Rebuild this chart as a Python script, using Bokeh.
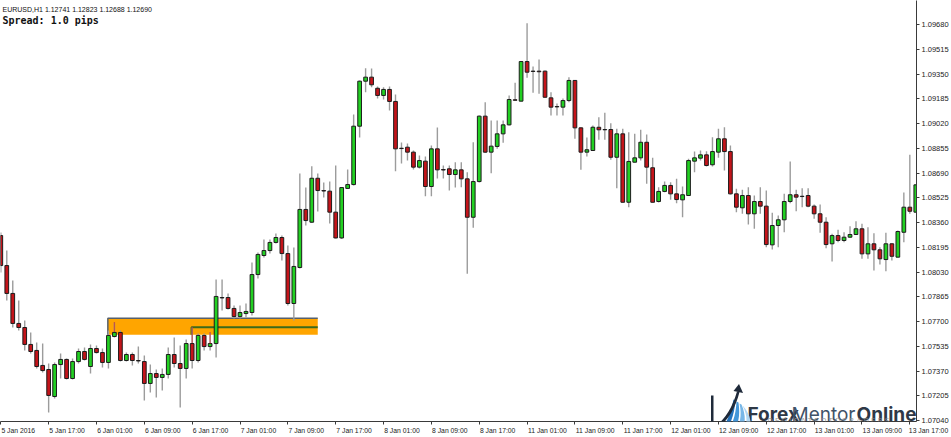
from bokeh.plotting import figure
from bokeh.models import Range1d, FixedTicker, PrintfTickFormatter, Label, PolyAnnotation
from bokeh.embed import file_html
from bokeh.resources import INLINE

# ---------------- data (EURUSD H1) ----------------
opens = [1.08273, 1.08073, 1.07887, 1.07687, 1.07660, 1.07547, 1.07507, 1.07407, 1.07380, 1.07200,
         1.07413, 1.07447, 1.07320, 1.07433, 1.07500, 1.07400, 1.07520, 1.07493, 1.07427, 1.07600,
         1.07627, 1.07440, 1.07480, 1.07440, 1.07433, 1.07287, 1.07353, 1.07327, 1.07347, 1.07480,
         1.07420, 1.07387, 1.07553, 1.07440, 1.07607, 1.07533, 1.07553, 1.07860, 1.07860, 1.07787,
         1.07733, 1.07753, 1.07760, 1.08013, 1.08140, 1.08173, 1.08227, 1.08260, 1.08153, 1.07820,
         1.08060, 1.08447, 1.08362, 1.08655, 1.08573, 1.08569, 1.08429, 1.08257, 1.08587, 1.08613,
         1.09002, 1.09302, 1.09329, 1.09255, 1.09207, 1.09247, 1.09167, 1.08855, 1.08862, 1.08829,
         1.08729, 1.08769, 1.08600, 1.08851, 1.08713, 1.08718, 1.08680, 1.08711, 1.08651, 1.08395,
         1.08633, 1.09069, 1.08829, 1.08867, 1.08951, 1.09011, 1.09178, 1.09169, 1.09433, 1.09369,
         1.09369, 1.09369, 1.09191, 1.09133, 1.09129, 1.09173, 1.09307, 1.08991, 1.08829, 1.08840,
         1.08995, 1.08980, 1.08980, 1.08795, 1.08951, 1.08495, 1.08762, 1.08791, 1.08895, 1.08725,
         1.08500, 1.08567, 1.08607, 1.08551, 1.08511, 1.08540, 1.08769, 1.08789, 1.08811, 1.08745,
         1.08829, 1.08918, 1.08833, 1.08551, 1.08458, 1.08540, 1.08418, 1.08500, 1.08469, 1.08211,
         1.08340, 1.08378, 1.08500, 1.08545, 1.08535, 1.08540, 1.08469, 1.08418, 1.08362, 1.08218,
         1.08273, 1.08240, 1.08262, 1.08280, 1.08318, 1.08151, 1.08218, 1.08178, 1.08113, 1.08218,
         1.08129, 1.08295, 1.08462, 1.08429]
highs = [1.08293, 1.08173, 1.07973, 1.07840, 1.07707, 1.07627, 1.07560, 1.07553, 1.07420, 1.07427,
         1.07487, 1.07453, 1.07453, 1.07520, 1.07527, 1.07547, 1.07540, 1.07520, 1.07640, 1.07693,
         1.07640, 1.07493, 1.07493, 1.07533, 1.07473, 1.07413, 1.07380, 1.07387, 1.07527, 1.07593,
         1.07540, 1.07580, 1.07660, 1.07620, 1.07620, 1.07627, 1.07980, 1.07980, 1.07887, 1.07807,
         1.07807, 1.07820, 1.08093, 1.08160, 1.08247, 1.08247, 1.08287, 1.08273, 1.08207, 1.08193,
         1.08687, 1.08593, 1.08735, 1.08687, 1.08627, 1.08633, 1.08740, 1.08593, 1.08713, 1.09080,
         1.09307, 1.09389, 1.09387, 1.09267, 1.09262, 1.09267, 1.09213, 1.08893, 1.08887, 1.08840,
         1.08807, 1.08800, 1.08873, 1.08993, 1.08740, 1.08740, 1.08762, 1.08762, 1.08695, 1.08895,
         1.09073, 1.09162, 1.09040, 1.09040, 1.09040, 1.09207, 1.09291, 1.09433, 1.09689, 1.09400,
         1.09447, 1.09373, 1.09229, 1.09153, 1.09187, 1.09329, 1.09310, 1.08995, 1.08927, 1.09007,
         1.09062, 1.09091, 1.09022, 1.08985, 1.08985, 1.08962, 1.08951, 1.08978, 1.08947, 1.08791,
         1.08595, 1.08633, 1.08629, 1.08651, 1.08600, 1.08785, 1.08833, 1.08840, 1.08835, 1.08929,
         1.08985, 1.08995, 1.08873, 1.08585, 1.08578, 1.08595, 1.08540, 1.08595, 1.08573, 1.08425,
         1.08407, 1.08551, 1.08767, 1.08578, 1.08589, 1.08589, 1.08480, 1.08480, 1.08395, 1.08285,
         1.08311, 1.08295, 1.08335, 1.08369, 1.08351, 1.08329, 1.08289, 1.08195, 1.08291, 1.08222,
         1.08307, 1.08560, 1.08811, 1.08613]
lows = [1.08027, 1.07840, 1.07660, 1.07640, 1.07507, 1.07487, 1.07387, 1.07360, 1.07093, 1.07187,
        1.07320, 1.07313, 1.07313, 1.07420, 1.07440, 1.07353, 1.07487, 1.07393, 1.07387, 1.07593,
        1.07433, 1.07433, 1.07407, 1.07420, 1.07173, 1.07227, 1.07193, 1.07240, 1.07320, 1.07393,
        1.07127, 1.07320, 1.07387, 1.07427, 1.07507, 1.07507, 1.07460, 1.07773, 1.07780, 1.07720,
        1.07720, 1.07727, 1.07740, 1.07987, 1.08127, 1.08153, 1.08220, 1.08107, 1.07807, 1.07707,
        1.08053, 1.08340, 1.08357, 1.08433, 1.08527, 1.08353, 1.08253, 1.08250, 1.08583, 1.08607,
        1.08927, 1.09229, 1.09262, 1.09187, 1.09180, 1.09107, 1.08702, 1.08753, 1.08773, 1.08713,
        1.08720, 1.08535, 1.08535, 1.08653, 1.08653, 1.08573, 1.08593, 1.08595, 1.08018, 1.08325,
        1.08627, 1.08823, 1.08689, 1.08851, 1.08891, 1.09007, 1.09173, 1.09167, 1.09325, 1.09225,
        1.09218, 1.09193, 1.09073, 1.09073, 1.09073, 1.09162, 1.08918, 1.08711, 1.08800, 1.08837,
        1.08911, 1.08911, 1.08778, 1.08589, 1.08493, 1.08462, 1.08760, 1.08773, 1.08618, 1.08493,
        1.08493, 1.08562, 1.08511, 1.08489, 1.08395, 1.08537, 1.08695, 1.08773, 1.08733, 1.08733,
        1.08791, 1.08707, 1.08547, 1.08429, 1.08418, 1.08347, 1.08318, 1.08418, 1.08195, 1.08180,
        1.08195, 1.08295, 1.08489, 1.08435, 1.08462, 1.08462, 1.08385, 1.08291, 1.08189, 1.08100,
        1.08229, 1.08229, 1.08258, 1.08278, 1.08118, 1.08118, 1.08040, 1.08080, 1.08035, 1.08107,
        1.08127, 1.08229, 1.08418, 1.08427]
closes = [1.08073, 1.07887, 1.07687, 1.07660, 1.07547, 1.07500, 1.07400, 1.07373, 1.07207, 1.07413,
          1.07447, 1.07320, 1.07433, 1.07500, 1.07447, 1.07520, 1.07493, 1.07427, 1.07607, 1.07627,
          1.07440, 1.07480, 1.07440, 1.07437, 1.07287, 1.07353, 1.07327, 1.07347, 1.07480, 1.07420,
          1.07387, 1.07553, 1.07440, 1.07607, 1.07533, 1.07553, 1.07867, 1.07857, 1.07787, 1.07733,
          1.07760, 1.07767, 1.08013, 1.08147, 1.08173, 1.08227, 1.08260, 1.08153, 1.07820, 1.08067,
          1.08447, 1.08373, 1.08655, 1.08573, 1.08570, 1.08429, 1.08257, 1.08593, 1.08613, 1.09002,
          1.09302, 1.09329, 1.09278, 1.09207, 1.09247, 1.09167, 1.08851, 1.08853, 1.08829, 1.08729,
          1.08773, 1.08600, 1.08851, 1.08711, 1.08710, 1.08680, 1.08711, 1.08651, 1.08395, 1.08633,
          1.09069, 1.08829, 1.08869, 1.08951, 1.09011, 1.09180, 1.09175, 1.09433, 1.09362, 1.09367,
          1.09365, 1.09195, 1.09129, 1.09131, 1.09173, 1.09307, 1.08991, 1.08829, 1.08845, 1.08995,
          1.08978, 1.08978, 1.08795, 1.08951, 1.08495, 1.08767, 1.08791, 1.08895, 1.08729, 1.08495,
          1.08567, 1.08607, 1.08551, 1.08513, 1.08545, 1.08773, 1.08791, 1.08811, 1.08740, 1.08833,
          1.08918, 1.08833, 1.08551, 1.08462, 1.08540, 1.08418, 1.08500, 1.08469, 1.08213, 1.08340,
          1.08378, 1.08500, 1.08545, 1.08529, 1.08533, 1.08469, 1.08418, 1.08362, 1.08213, 1.08273,
          1.08240, 1.08262, 1.08280, 1.08318, 1.08151, 1.08218, 1.08178, 1.08118, 1.08218, 1.08135,
          1.08300, 1.08462, 1.08435, 1.08611]

time_labels = ["5 Jan 2016", "5 Jan 17:00", "6 Jan 01:00", "6 Jan 09:00", "6 Jan 17:00",
               "7 Jan 01:00", "7 Jan 09:00", "7 Jan 17:00", "8 Jan 01:00", "8 Jan 09:00",
               "8 Jan 17:00", "11 Jan 01:00", "11 Jan 09:00", "11 Jan 17:00", "12 Jan 01:00",
               "12 Jan 09:00", "12 Jan 17:00", "13 Jan 01:00", "13 Jan 09:00", "13 Jan 17:00"]
bars_per_label = 8
price_ticks = [1.07040, 1.07205, 1.07370, 1.07535, 1.07700, 1.07865, 1.08030, 1.08195, 1.08360,
               1.08525, 1.08690, 1.08855, 1.09020, 1.09185, 1.09350, 1.09515, 1.09680]

# supply/demand zone drawn on the chart
zone_start, zone_end = 17.9, 53.0
zone_top, zone_bottom = 1.07722, 1.07611
level_start, level_price = 31.9, 1.07662
marked_bars = [19, 32, 35]

header_text = "EURUSD,H1  1.12741 1.12823 1.12688 1.12690"
spread_text = "Spread: 1.0 pips"

# ---------------- geometry helpers ----------------
PX_PER_BAR = 6.0
PX_PER_PRICE = 15000.0
FRAME_W, FRAME_H = 919, 421
TOP_PRICE = 1.0984


def kx(px):
    return (px - 0.3) / PX_PER_BAR


def py(px):
    return TOP_PRICE - px / PX_PER_PRICE


def sx(px):          # page x -> screen units (frame left origin)
    return px


def sy(px):          # page y -> screen units (frame bottom origin, upwards)
    return FRAME_H - px


GREEN = "#22d022"
RED = "#c4141a"
OUTLINE = "#1c1c1c"
WICK = "#9c9c9c"
AXIS = "#3a3a3a"

n = len(opens)
idx = list(range(n))
body_top = [max(o, c) for o, c in zip(opens, closes)]
body_bot = [min(o, c) for o, c in zip(opens, closes)]
colors = [GREEN if c > o else RED for o, c in zip(opens, closes)]

p = figure(width=951, height=437, output_backend="svg", toolbar_location=None,
           x_range=Range1d(kx(0), kx(FRAME_W)), y_range=Range1d(py(FRAME_H), py(0)),
           y_axis_location="right", min_border_left=0, min_border_top=0,
           min_border_right=32, min_border_bottom=16)
p.outline_line_color = None
p.background_fill_color = "white"
p.border_fill_color = "white"
p.xgrid.visible = False
p.ygrid.visible = False

# zone (background object)
p.quad(left=[zone_start], right=[zone_end], top=[zone_top], bottom=[zone_bottom],
       fill_color="#ffa500", line_color=None)
p.line([zone_start, zone_start, zone_end], [zone_bottom, zone_top, zone_top],
       line_color="#56606c", line_width=1.5)
p.line([level_start, level_start, zone_end], [zone_bottom, level_price, level_price],
       line_color="#3b6a1c", line_width=2)

# candles
p.segment(x0=idx, y0=highs, x1=idx, y1=lows, line_color=WICK, line_width=1.4)
p.vbar(x=idx, width=0.62, top=body_top, bottom=body_bot, fill_color=colors,
       line_color=OUTLINE, line_width=1)
p.segment(x0=marked_bars, y0=[highs[k] for k in marked_bars],
          x1=marked_bars, y1=[body_top[k] for k in marked_bars],
          line_color="#d01010", line_width=1.3, line_dash="1 1")

# right price axis
ya = p.yaxis[0]
ya.ticker = FixedTicker(ticks=price_ticks)
ya.formatter = PrintfTickFormatter(format="%.5f")
ya.major_label_text_font = "Liberation Sans"
ya.major_label_text_font_size = "7.5px"
ya.major_label_text_color = "#222222"
ya.major_tick_out = 3
ya.major_tick_in = 0
ya.minor_tick_line_color = None
ya.axis_line_color = AXIS
ya.major_tick_line_color = AXIS
ya.major_label_standoff = 2

# bottom time axis: tick marks at bar positions, labels start at the tick
CHAR_EM = {" ": 0.278, ":": 0.278, "J": 0.5, "a": 0.556, "n": 0.556}
LABEL_PX = 6.8
NBSP = "\u00a0"
NBSP_PX = 0.278 * LABEL_PX


def text_px(s):
    return sum(CHAR_EM.get(ch, 0.556) for ch in s) * LABEL_PX


tick_pos = [bars_per_label * i for i in range(len(time_labels))]
x_end = kx(FRAME_W)
major_pos, overrides = [], {}
for t, lab in zip(tick_pos, time_labels):
    w = text_px(lab)
    start_px = t * PX_PER_BAR + 0.3 + 0.7
    center_px = start_px + w / 2
    if kx(center_px) < x_end - 0.05:
        c = round(kx(center_px), 3)
        major_pos.append(c)
        overrides[c] = lab
    else:
        # last label would be centred outside the frame: centre it just inside and
        # pad on the left so the visible text still starts at its tick
        start_px = t * PX_PER_BAR - 1.0
        c_px = FRAME_W - 1.2
        n_pad = max(0, int(round((2 * (start_px - c_px) + w) / NBSP_PX)))
        c = round(kx(c_px), 3)
        major_pos.append(c)
        overrides[c] = NBSP * n_pad + lab

xa = p.xaxis[0]
xa.ticker = FixedTicker(ticks=major_pos, minor_ticks=tick_pos)
xa.major_label_overrides = overrides
xa.major_tick_line_color = None
xa.major_tick_out = 3
xa.major_tick_in = 0
xa.minor_tick_out = 3
xa.minor_tick_in = 0
xa.minor_tick_line_color = AXIS
xa.axis_line_color = AXIS
xa.major_label_standoff = 2
xa.major_label_text_font = "Liberation Sans"
xa.major_label_text_font_size = "%gpx" % LABEL_PX
xa.major_label_text_color = "#222222"

# header texts
p.add_layout(Label(x=kx(2), y=py(8.5), text=header_text, text_font="Liberation Sans",
                   text_font_size="7px", text_color="#111111", text_baseline="alphabetic"))
p.add_layout(Label(x=kx(2), y=py(19.5), text=spread_text, text_font="DejaVu Sans Mono",
                   text_font_size="10px", text_font_style="bold", text_color="#111111",
                   text_baseline="alphabetic"))

# ---------------- watermark logo (screen units, kept inside the frame) ----------------
NAVY = "#1f2a3a"


def quad_pts(p0, c, p1, steps=8):
    pts = []
    for i in range(steps + 1):
        t = i / steps
        x = (1 - t) ** 2 * p0[0] + 2 * (1 - t) * t * c[0] + t ** 2 * p1[0]
        y = (1 - t) ** 2 * p0[1] + 2 * (1 - t) * t * c[1] + t ** 2 * p1[1]
        pts.append((x, y))
    return pts


def poly(points, fill):
    p.add_layout(PolyAnnotation(xs=[sx(a) for a, b in points], ys=[sy(b) for a, b in points],
                                xs_units="screen", ys_units="screen", fill_color=fill,
                                fill_alpha=1.0, line_color=None, level="overlay"))


bands = [((716, 434), (728, 424), (733, 399), (722, 434), (733, 423), (735, 400), "#2473bd"),
         ((724, 434), (735, 423), (736, 401), (731, 434), (741, 422), (738, 402), "#4397da"),
         ((733, 434), (743, 421), (739, 403), (740, 434), (748, 420), (741, 404), "#78b7e7"),
         ((742, 434), (750, 420), (742, 405), (748, 434), (754, 419), (743, 406), "#b0d7f2")]
for a0, ac, a1, b0, bc, b1, col in bands:
    poly(quad_pts(a0, ac, a1) + quad_pts(b0, bc, b1)[::-1], col)
poly(quad_pts((715, 426), (730, 414), (736.5, 391)) +
     quad_pts((718, 427), (733, 415), (739, 391.5))[::-1], NAVY)
poly([(738.5, 383.5), (742.5, 392.5), (733.0, 390.5)], NAVY)
poly([(710.5, 395), (713, 395), (713, 434), (753.5, 434), (753.5, 436.5), (710.5, 436.5)], NAVY)

WORD_BASE = 414.0
WORD_FONT = "19px"
p.add_layout(Label(x=sx(747), y=sy(WORD_BASE), x_units="screen", y_units="screen",
                   text="Forex", text_font="Inter", text_font_size=WORD_FONT,
                   text_font_style="bold", text_color="#2e3846", text_baseline="alphabetic",
                   text_align="left"))
p.add_layout(Label(x=sx(823), y=sy(WORD_BASE), x_units="screen", y_units="screen",
                   text="Mentor", text_font="Inter", text_font_size=WORD_FONT,
                   text_font_style="normal", text_color="#3f5368", text_baseline="alphabetic",
                   text_align="center"))
p.add_layout(Label(x=sx(916), y=sy(WORD_BASE), x_units="screen", y_units="screen",
                   text="Online", text_font="Inter", text_font_size=WORD_FONT,
                   text_font_style="bold", text_color="#2e3846", text_baseline="alphabetic",
                   text_align="right"))
p.add_layout(Label(x=sx(767), y=sy(420.2), x_units="screen", y_units="screen",
                   text="D E D I C A T E D   T O   T R A D E R S", text_font="DejaVu Sans",
                   text_font_size="7px", text_color="#8c8c8c", text_alpha=0.9,
                   text_baseline="alphabetic"))

open("out.html", "w").write(file_html(p, INLINE))
